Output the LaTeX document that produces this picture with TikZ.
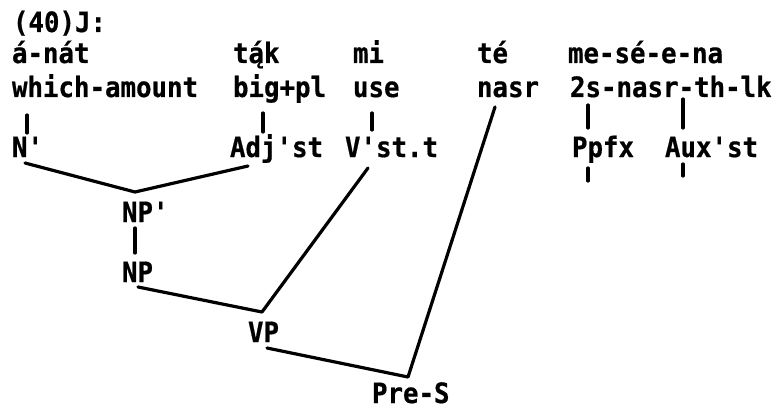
\documentclass[tikz,border=0pt]{standalone}
\usepackage{fontspec}
\newfontfamily\tw{DejaVu Sans Mono}[Ligatures=TeXOff,FakeStretch=0.92,FakeBold=0.6]
\begin{document}
\begin{tikzpicture}[x=1pt,y=1pt,
  txt/.style={anchor=base west,inner sep=0pt,outer sep=0pt,font=\tw\bfseries\fontsize{28pt}{32pt}\selectfont},
  ln/.style={line width=3.2pt,line cap=round,line join=round}]
\useasboundingbox (0,0) rectangle (778,-409);
% text rows
\node[txt] (title) at (13,-32) {(40)J:};
\node[txt] (anat) at (12,-63) {á-nát};
\node[txt] (tak) at (233,-63) {tą\llap{´}k};
\node[txt] (mi) at (353,-63) {mi};
\node[txt] (te) at (477,-63) {té};
\node[txt] (mesena) at (568,-63) {me-sé-e-na};
\node[txt] (which) at (12,-97) {which-amount};
\node[txt] (bigpl) at (233,-97) {big+pl};
\node[txt] (use) at (353,-97) {use};
\node[txt] (nasr) at (477,-97) {nasr};
\node[txt] (twos) at (570,-97) {2s-nasr-th-lk};
\node[txt] (nb) at (12,-157) {N'};
\node[txt] (adj) at (230,-157) {Adj'st};
\node[txt] (vst) at (345,-157) {V'st.t};
\node[txt] (ppfx) at (572,-157) {Ppfx};
\node[txt] (aux) at (665,-157) {Aux'st};
\node[txt] (npp) at (122,-222) {NP'};
\node[txt] (np) at (122,-282) {NP};
\node[txt] (vp) at (248,-342) {VP};
\node[txt] (pres) at (372,-403) {Pre-S};
% vertical bars
\draw[ln] ([shift={(15,-18)}]which.base west) -- ([shift={(15,24)}]nb.base west);
\draw[ln] ([shift={(30,-16)}]bigpl.base west) -- ([shift={(33,25)}]adj.base west);
\draw[ln] ([shift={(19,-16)}]use.base west) -- ([shift={(27,27)}]vst.base west);
\draw[ln] ([shift={(18,-8)}]twos.base west) -- ([shift={(16,29)}]ppfx.base west);
\draw[ln] ([shift={(113,-2)}]twos.base west) -- ([shift={(18,29)}]aux.base west);
\coordinate (pa) at ([shift={(16,-11)}]ppfx.base west);
\coordinate (pb) at ([shift={(16,-24)}]ppfx.base west);
\draw[ln] (pa) -- (pb);
\coordinate (aa) at ([shift={(18,-7)}]aux.base west);
\coordinate (ab) at ([shift={(18,-19)}]aux.base west);
\draw[ln] (aa) -- (ab);
% tree
\draw[ln] ([shift={(13,-6)}]nb.base west) -- ([shift={(13,30)}]npp.base west) -- ([shift={(18,-9)}]adj.base west);
\draw[ln] ([shift={(13,-6)}]npp.base west) -- ([shift={(13,29)}]np.base west);
\draw[ln] ([shift={(16,-5)}]np.base west) -- ([shift={(14,30)}]vp.base west) -- ([shift={(23,-11)}]vst.base west);
\draw[ln] ([shift={(19,-6)}]vp.base west) -- ([shift={(36,26)}]pres.base west) -- ([shift={(18,-10)}]nasr.base west);
\end{tikzpicture}
\end{document}
